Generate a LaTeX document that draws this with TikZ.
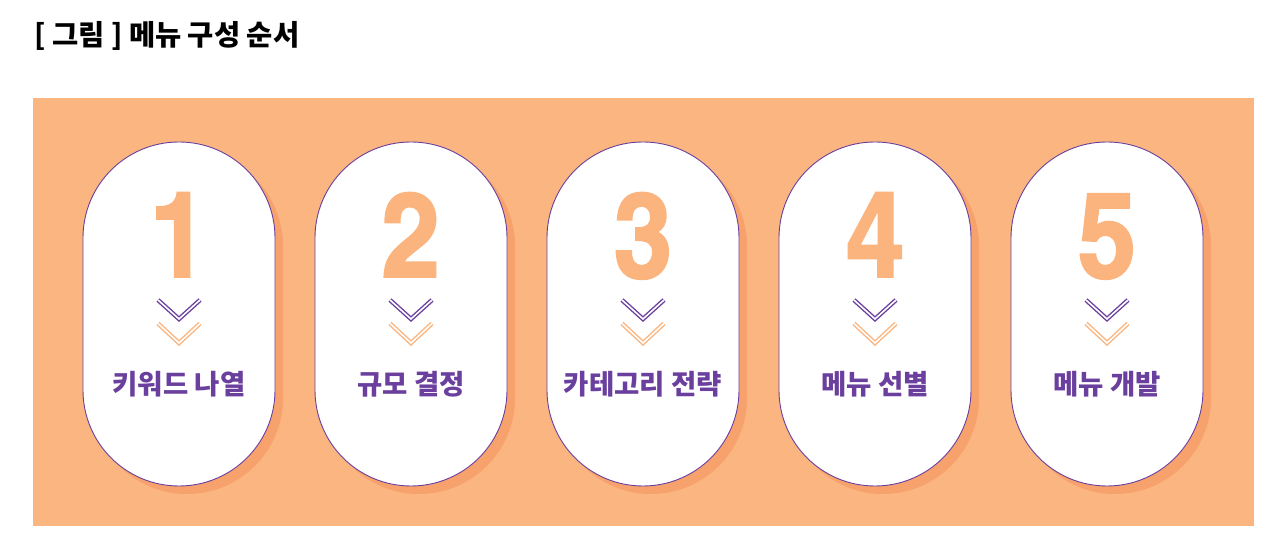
\documentclass[tikz,border=0pt]{standalone}
\usepackage{fontspec}
\setmainfont{Noto Sans CJK KR}
\newfontfamily\numfont{TeX Gyre Heros Cn}[BoldFeatures={FakeBold=1.6,FakeStretch=1.08}]
\usetikzlibrary{positioning}
\definecolor{bgorange}{HTML}{FAB580}
\definecolor{shadeorange}{HTML}{F7A26C}
\definecolor{numorange}{HTML}{FBB47D}
\definecolor{menupurple}{HTML}{6A3F9E}
\tikzset{pill/.style={rectangle, rounded corners=95.9pt, draw=menupurple,
         line width=0.9pt, fill=white, minimum width=192pt,
         minimum height=344pt, inner sep=0pt},
         pillshade/.style={pill, draw=none, fill=shadeorange},
         bignum/.style={anchor=base, inner sep=0pt, text=numorange,
         font=\numfont\bfseries\fontsize{119}{119}\selectfont},
         steplabel/.style={inner sep=0pt, text=menupurple,
         font=\bfseries\fontsize{27.5}{27.5}\selectfont},
         chevron/.style={draw=#1, double=white, double distance=1.6pt,
         line width=1.4pt, miter limit=10},
         chevron/.default={menupurple}}

\begin{document}
\begin{tikzpicture}[x=1pt,y=1pt]
  \useasboundingbox (0,0) rectangle (1286,556);
  \node[anchor=west, inner sep=0pt, font=\bfseries\fontsize{28.5}{28.5}\selectfont]
    (title) at (34,520) {[ 그림 ] 메뉴 구성 순서};
  \fill[bgorange] (33,30) rectangle (1254,458);

  \foreach \lbl [count=\i] in {키워드 나열, 규모 결정, 카테고리 전략, 메뉴 선별, 메뉴 개발} {
    \node[pillshade] (shade\i) at (179+232*\i-232+8, 234) {};
    \node[pill] (pill\i) at (179+232*\i-232, 242) {};
    \node[bignum] (num\i) at ([yshift=37pt]pill\i.center) {\i};
    \draw[chevron] ([shift={(-21,14)}]pill\i.center) -- ([shift={(0,-5)}]pill\i.center)
      -- ([shift={(21,14)}]pill\i.center);
    \draw[chevron=numorange] ([shift={(-21,-9.5)}]pill\i.center) -- ([shift={(0,-29)}]pill\i.center)
      -- ([shift={(21,-9.5)}]pill\i.center);
    \node[steplabel] (lbl\i) at ([yshift=-70pt]pill\i.center) {\lbl};
  }
\end{tikzpicture}
\end{document}
